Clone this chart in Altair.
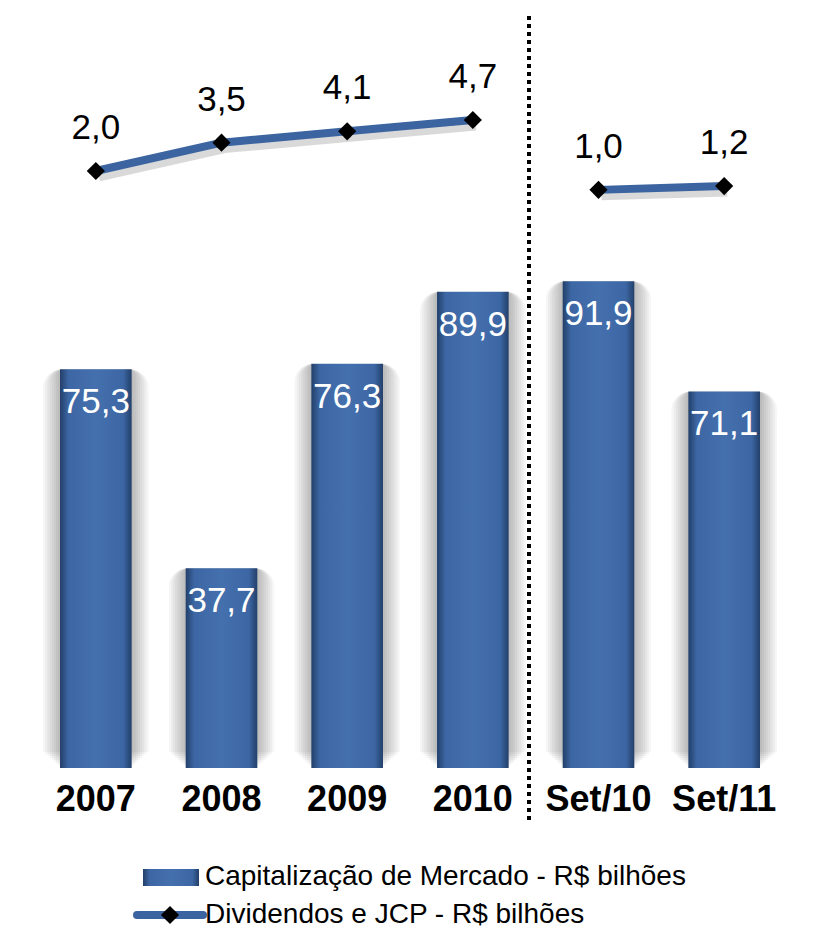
import altair as alt
import pandas as pd

# ---- data ----
categories = ["2007", "2008", "2009", "2010", "Set/10", "Set/11"]
capitalizacao = [75.3, 37.7, 76.3, 89.9, 91.9, 71.1]
dividendos = [2.0, 3.5, 4.1, 4.7, 1.0, 1.2]
periodo = ["anual", "anual", "anual", "anual", "setembro", "setembro"]
legend_labels = ["Capitalização de Mercado - R$ bilhões", "Dividendos e JCP - R$ bilhões"]

def fmt(v):
    return f"{v:.1f}".replace(".", ",")

df = pd.DataFrame({
    "cat": categories,
    "cap": capitalizacao,
    "div": dividendos,
    "grp": periodo,
    "cap_lbl": [fmt(v) for v in capitalizacao],
    "div_lbl": [fmt(v) for v in dividendos],
})

FONT = "Liberation Sans"
BLUE = "#3b64a0"
bar_grad = alt.Gradient(
    gradient="linear", x1=0, x2=1, y1=0, y2=0,
    stops=[
        alt.GradientStop(color="#223f69", offset=0),
        alt.GradientStop(color="#3d67a4", offset=0.12),
        alt.GradientStop(color="#4470ad", offset=0.5),
        alt.GradientStop(color="#3d67a4", offset=0.88),
        alt.GradientStop(color="#223f69", offset=1),
    ],
)

xenc = alt.X(
    "cat:N", sort=categories, title=None,
    scale=alt.Scale(paddingInner=0.43, paddingOuter=0.215),
    axis=alt.Axis(labelAngle=0, labelFont=FONT, labelFontSize=36, labelFontWeight="bold",
                  labelColor="#000000", domain=False, ticks=False, labelPadding=14, grid=False),
)
ybar = alt.Y("cap:Q", scale=alt.Scale(domain=[0, 145]), axis=None)
yline = alt.Y("div:Q", scale=alt.Scale(domain=[-29.6, 11.05]), axis=None)

base = alt.Chart(df).encode(x=xenc)

glow_steps = [(1.0 + 0.06 * i, -2 * i, 3 + 2 * i) for i in range(8, 0, -1)]
glows = [
    base.mark_bar(width={"band": w}, color="#000000", opacity=0.035, yOffset=off, y2Offset=0,
                  cornerRadius=r).encode(y=ybar)
    for w, off, r in glow_steps
]
bars = base.mark_bar(color=bar_grad).encode(y=ybar)
bar_labels = base.mark_text(font=FONT, fontSize=35, color="white", baseline="middle",
                            dy=33).encode(y=ybar, text="cap_lbl:N")
bar_layer = alt.layer(*glows, bars, bar_labels)

line_shadow = base.mark_line(color="#000000", opacity=0.15, strokeWidth=11, xOffset=3,
                             yOffset=5).encode(y=yline, detail="grp:N")
line = base.mark_line(color=BLUE, strokeWidth=8).encode(y=yline, detail="grp:N")
points = base.mark_point(shape="diamond", filled=True, color="#000000", size=330,
                         opacity=1).encode(y=yline)
line_labels = base.mark_text(font=FONT, fontSize=35, color="#000000", baseline="middle",
                             dy=-43).encode(y=yline, text="div_lbl:N")
line_layer = alt.layer(line_shadow, line, points, line_labels)

one = pd.DataFrame({"k": [0]})
sep = alt.Chart(one).mark_rule(color="#000000", strokeWidth=4, strokeDash=[4, 4]).encode(
    x=alt.value(496), y=alt.value(16), y2=alt.value(820))

leg_df = pd.DataFrame({"lbl": legend_labels, "row": [0, 1]})
leg_rect = alt.Chart(one).mark_rect(color=bar_grad).encode(
    x=alt.value(110), x2=alt.value(166), y=alt.value(869), y2=alt.value(886))
leg_line = alt.Chart(one).mark_rule(color=BLUE, strokeWidth=8, strokeCap="round").encode(
    x=alt.value(104), x2=alt.value(170), y=alt.value(915))
leg_pt = alt.Chart(one).mark_point(shape="diamond", filled=True, color="#000000", size=330,
                                   opacity=1).encode(x=alt.value(137), y=alt.value(915))
leg_text1 = alt.Chart(leg_df[leg_df.row == 0]).mark_text(
    font=FONT, fontSize=28, align="left", baseline="middle", color="#000000").encode(
    x=alt.value(172), y=alt.value(877), text="lbl:N")
leg_text2 = alt.Chart(leg_df[leg_df.row == 1]).mark_text(
    font=FONT, fontSize=28, align="left", baseline="middle", color="#000000").encode(
    x=alt.value(172), y=alt.value(915), text="lbl:N")

chart = alt.layer(
    bar_layer, line_layer, sep, leg_rect, leg_line, leg_pt, leg_text1, leg_text2
).resolve_scale(y="independent").properties(
    width=754, height=768,
    background="white",
    autosize=alt.AutoSizeParams(type="none"),
    padding={"left": 33, "top": 0, "right": 29, "bottom": 175},
).configure_view(strokeWidth=0, stroke="transparent")

chart.save("out.html", embed_options={"renderer": "svg", "actions": False})
